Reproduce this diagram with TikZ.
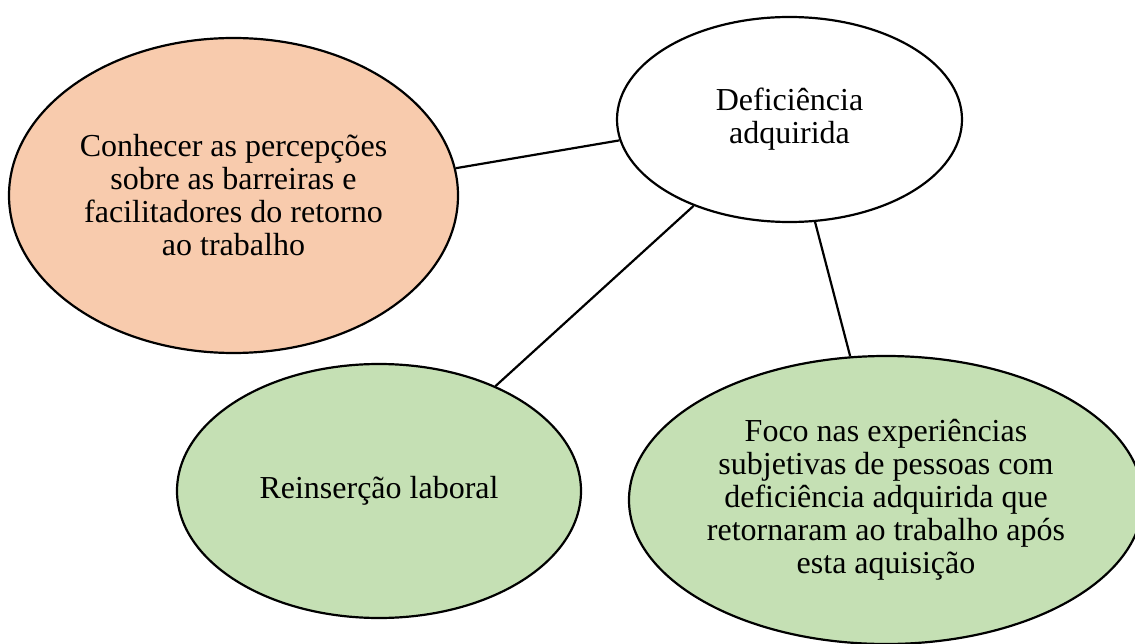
\documentclass[tikz,border=0pt]{standalone}
\usepackage{fontspec}
\setmainfont{Liberation Serif}
\usetikzlibrary{shapes.geometric}
\definecolor{orangefill}{HTML}{F8CBAD}
\definecolor{greenfill}{HTML}{C5E0B4}
\tikzset{
  bubble/.style={ellipse, draw=black, line width=2.2pt, inner sep=0pt, align=center,
    font=\fontsize{32}{33}\selectfont},
  link/.style={draw=black, line width=2.2pt}
}
\begin{document}
\begin{tikzpicture}[x=1pt,y=-1pt]
\clip (0,0) rectangle (1135,644);
\fill[white] (0,0) rectangle (1135,644);
\node[bubble, fill=white, minimum width=345pt, minimum height=205pt] (def) at (789.5,119.5) {Deficiência\\adquirida};
\node[bubble, fill=orangefill, minimum width=449pt, minimum height=315pt] (con) at (233.5,195.5) {Conhecer as percepções\\sobre as barreiras e\\facilitadores do retorno\\ao trabalho};
\node[bubble, fill=greenfill, minimum width=404pt, minimum height=254pt] (rei) at (379,491) {Reinserção laboral};
\node[bubble, fill=greenfill, minimum width=514pt, minimum height=288pt] (foc) at (886,500) {Foco nas experiências\\subjetivas de pessoas com\\deficiência adquirida que\\retornaram ao trabalho após\\esta aquisição};
\draw[link] (con.7.8) -- (def.187.6);
\draw[link] (def.222.2) -- (rei.42.2);
\draw[link] (def.284) -- (foc.104.8);
\end{tikzpicture}
\end{document}
